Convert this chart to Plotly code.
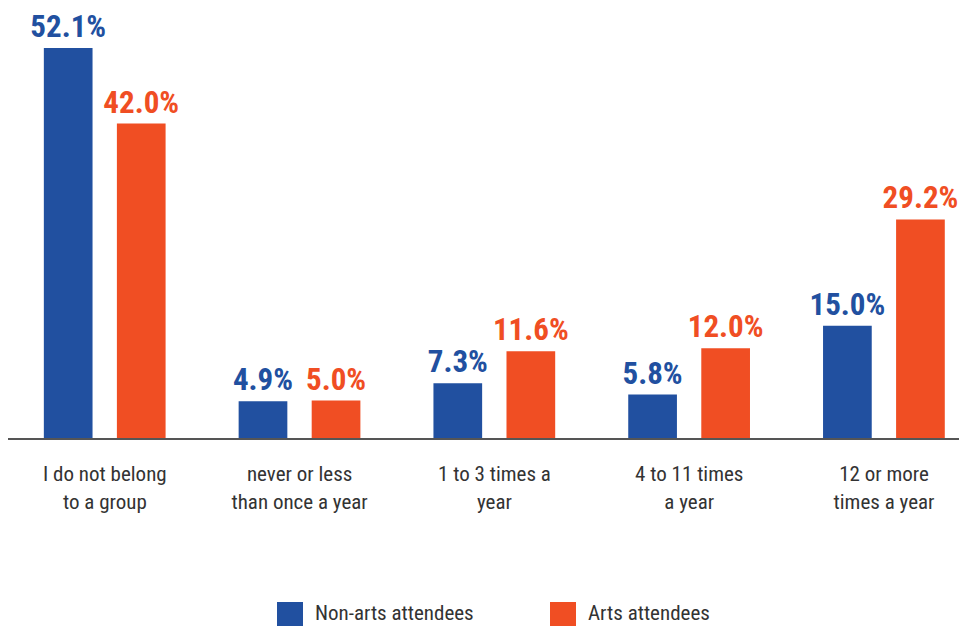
import plotly.graph_objects as go

categories = ["I do not belong<br>to a group", "never or less<br>than once a year",
              "1 to 3 times a<br>year", "4 to 11 times<br>a year", "12 or more<br>times a year"]
non_arts = [52.1, 4.9, 7.3, 5.8, 15.0]
arts = [42.0, 5.0, 11.6, 12.0, 29.2]
series_names = ["Non-arts attendees", "Arts attendees"]

BLUE = "#2150A0"
ORANGE = "#F04E23"
FONT = "Liberation Sans Narrow, Noto Sans Condensed, Roboto Condensed, DejaVu Sans Condensed, sans-serif"

# page has an 8px body margin; figure is sized so plot sits where the reference's does
W, H = 959, 618
ML, MT, MB = 0, 32, 188
PW, PH = W - ML, H - MT - MB

fig = go.Figure()
for vals, color, name, off in [(non_arts, BLUE, series_names[0], -0.313),
                               (arts, ORANGE, series_names[1], 0.062)]:
    fig.add_trace(go.Bar(
        x=list(range(len(categories))), y=vals, name=name,
        marker=dict(color=color, line=dict(width=0)),
        width=0.25, offset=off,
        text=[f"{v:.1f}%" for v in vals], textposition="outside",
        constraintext="none",
        textfont=dict(family=FONT, size=31, color=color, weight="bold"),
        cliponaxis=False, showlegend=False,
    ))

fig.update_layout(
    width=W, height=H,
    margin=dict(l=ML, r=0, t=MT, b=MB, autoexpand=False),
    paper_bgcolor="white", plot_bgcolor="white",
    barmode="overlay",
    font=dict(family=FONT, color="#333333"),
    xaxis=dict(
        range=[-0.497, 4.426], tickmode="array",
        tickvals=list(range(len(categories))), ticktext=categories,
        showgrid=False, zeroline=False, showline=True, linecolor="#555555", linewidth=2,
        ticks="", ticklabelstandoff=16,
        tickfont=dict(family=FONT, size=21, color="#333333"),
    ),
    yaxis=dict(range=[0, PH / 7.486], visible=False, showgrid=False, zeroline=False),
)

# legend drawn as swatches + text in paper space (page coords -> paper)
def px_to_paper_x(px):
    return (px - 8 - ML) / PW

def py_to_paper_y(py):
    return (MT + PH - (py - 8)) / PH

legend_items = [(series_names[0], BLUE, 277), (series_names[1], ORANGE, 550)]
for name, color, px in legend_items:
    fig.add_shape(type="rect", xref="paper", yref="paper",
                  x0=px_to_paper_x(px), x1=px_to_paper_x(px + 26),
                  y0=py_to_paper_y(626), y1=py_to_paper_y(602),
                  fillcolor=color, line=dict(width=0))
    fig.add_annotation(text=name, xref="paper", yref="paper",
                       x=px_to_paper_x(px + 36), y=py_to_paper_y(613),
                       xanchor="left", yanchor="middle", showarrow=False,
                       font=dict(family=FONT, size=21, color="#333333"))

fig.write_html("out.html")
